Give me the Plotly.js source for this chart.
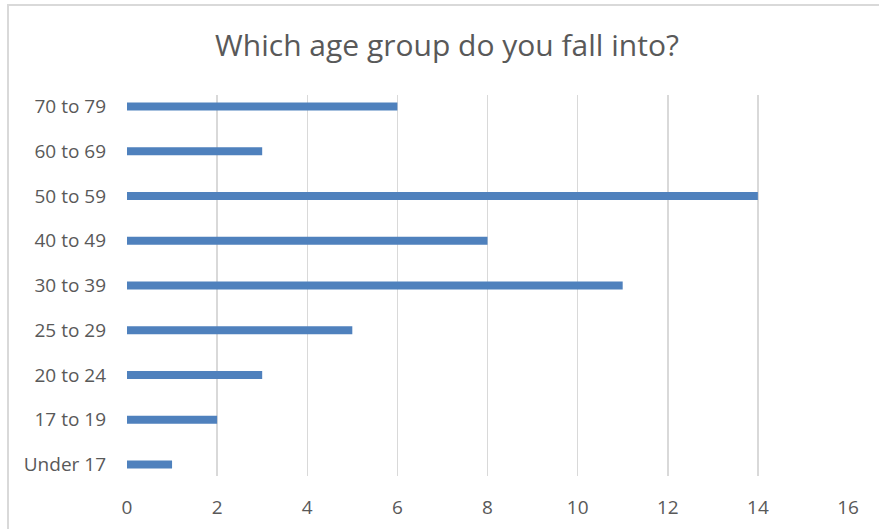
<!DOCTYPE html>
<html>
<head>
<meta charset="utf-8">
<script src="https://cdn.plot.ly/plotly-3.0.1.min.js"></script>
<style>html,body{margin:0;padding:0;background:#fff;}#chart{width:879px;height:529px;}</style>
</head>
<body>
<div id="chart"></div>
<script>
const categories = ["Under 17", "17 to 19", "20 to 24", "25 to 29", "30 to 39", "40 to 49", "50 to 59", "60 to 69", "70 to 79"];
const counts = [1, 2, 3, 5, 11, 8, 14, 3, 6];
const xTicks = [0, 2, 4, 6, 8, 10, 12, 14, 16];
const chartTitle = "Which age group do you fall into?";

const W = 879, H = 529, L = 127, R = 31, T = 95, B = 53;
const pw = W - L - R, ph = H - T - B;
const px = x => (x - L) / pw;
const py = y => (H - B - y) / ph;

const trace = {
  type: "bar",
  orientation: "h",
  x: counts,
  y: categories,
  width: 0.18,
  marker: {color: "#4F81BD"},
  hoverinfo: "x+y"
};

const layout = {
  width: W, height: H,
  margin: {l: L, r: R, t: T, b: B, pad: 0},
  paper_bgcolor: "#fff",
  plot_bgcolor: "#fff",
  font: {family: "Open Sans, sans-serif", color: "#595959", size: 19},
  showlegend: false,
  title: {
    text: chartTitle,
    font: {family: "Open Sans, sans-serif", size: 30, color: "#595959"},
    x: 447 / W, xanchor: "center", xref: "container",
    y: 1 - 45 / H, yanchor: "middle", yref: "container"
  },
  xaxis: {
    range: [0, 16],
    tickvals: xTicks,
    ticktext: xTicks.map(String),
    showgrid: true, gridcolor: "#d9d9d9", gridwidth: 1.5,
    zeroline: false, showline: false, ticks: "",
    ticklabelstandoff: 18,
    fixedrange: true
  },
  yaxis: {
    type: "category",
    categoryorder: "array", categoryarray: categories,
    range: [-0.255, 8.255],
    showgrid: false, zeroline: false, showline: false, ticks: "",
    ticklabelstandoff: 20,
    fixedrange: true
  },
  shapes: [
    {type: "line", xref: "paper", yref: "paper", x0: px(7), x1: px(879), y0: py(5), y1: py(5), line: {color: "#d9d9d9", width: 2}},
    {type: "line", xref: "paper", yref: "paper", x0: px(8), x1: px(8), y0: py(5), y1: py(529), line: {color: "#d9d9d9", width: 2}}
  ]
};

Plotly.newPlot("chart", [trace], layout, {displayModeBar: false, staticPlot: true});
</script>
</body>
</html>
